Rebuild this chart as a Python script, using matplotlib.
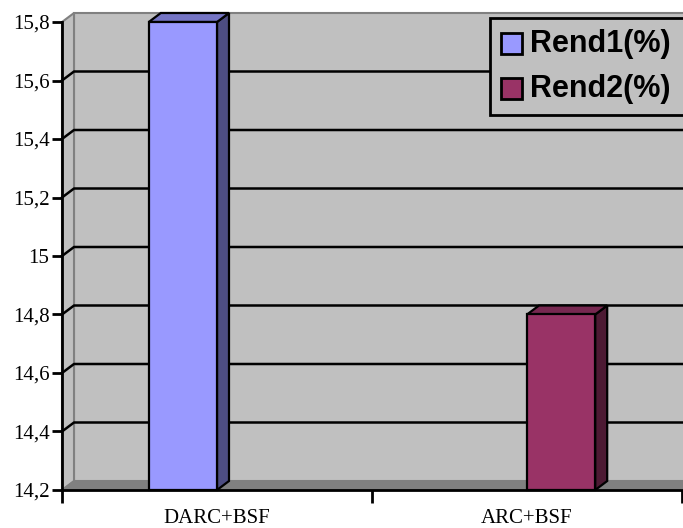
import numpy as np
import matplotlib
matplotlib.use('Agg')
from matplotlib import pyplot as plt
from matplotlib.patches import Rectangle, Polygon
from matplotlib.transforms import Affine2D

# Data
categories = ['DARC+BSF', 'ARC+BSF']
series_names = ['Rend1(%)', 'Rend2(%)']
rend1 = [15.8, np.nan]
rend2 = [np.nan, 14.8]
yticks = [14.2, 14.4, 14.6, 14.8, 15.0, 15.2, 15.4, 15.6, 15.8]

front_cols = ['#9999FF', '#993366']
side_cols = ['#4D4D82', '#4D1A33']
top_cols = ['#7474C4', '#772850']

W, H = 683, 528
fig = plt.figure(figsize=(W / 100, H / 100), dpi=100)
ax_l, ax_r, ax_b, ax_t = 62, 682, 490, 22
ax = fig.add_axes([ax_l / W, 1 - ax_b / H, (ax_r - ax_l) / W, (ax_b - ax_t) / H])
ax.patch.set_visible(False)

x0, x1 = -0.5, 1.5
y0, y1 = 14.2, 15.8
ax.set_xlim(x0, x1)
ax.set_ylim(y0, y1)

# depth offset of the 3D box, 12 px right / 9 px up
dx = 12 / (ax_r - ax_l) * (x1 - x0)
dy = 9 / (ax_b - ax_t) * (y1 - y0)

# back wall, side wall and floor
ax.add_patch(Rectangle((x0 + dx, y0 + dy), (x1 - x0) + dx, (y1 - y0),
                       facecolor='#C0C0C0', edgecolor='#808080', lw=1.5,
                       clip_on=False, zorder=0))
ax.add_patch(Polygon([(x0, y0), (x0, y1), (x0 + dx, y1 + dy), (x0 + dx, y0 + dy)],
                     facecolor='#C0C0C0', edgecolor='#808080', lw=1.5,
                     clip_on=False, zorder=0))
ax.add_patch(Polygon([(x0, y0), (x1 + dx, y0), (x1 + 2 * dx, y0 + dy), (x0 + dx, y0 + dy)],
                     facecolor='#808080', edgecolor='#808080', lw=1,
                     clip_on=False, zorder=0.5))

# gridlines on the side and back walls
for yt in yticks[1:-1]:
    ax.plot([x0, x0 + dx, x1 + 2 * dx], [yt, yt + dy, yt + dy],
            color='black', lw=1.8, clip_on=False, zorder=1)

# bars as boxes
bw = 0.22
for s, vals in enumerate([rend1, rend2]):
    for i, v in enumerate(vals):
        if np.isnan(v):
            continue
        xa = i - bw + s * bw
        xb = xa + bw
        ax.add_patch(Polygon([(xb, y0), (xb, v), (xb + dx, v + dy), (xb + dx, y0 + dy)],
                             facecolor=side_cols[s], edgecolor='black', lw=1.6,
                             clip_on=False, zorder=2))
        ax.add_patch(Polygon([(xa, v), (xb, v), (xb + dx, v + dy), (xa + dx, v + dy)],
                             facecolor=top_cols[s], edgecolor='black', lw=1.6,
                             clip_on=False, zorder=2))
        ax.add_patch(Rectangle((xa, y0), bw, v - y0,
                               facecolor=front_cols[s], edgecolor='black', lw=1.6,
                               clip_on=False, zorder=3))

# axes
for side in ['top', 'right']:
    ax.spines[side].set_visible(False)
for side in ['left', 'bottom']:
    ax.spines[side].set_linewidth(2)
    ax.spines[side].set_zorder(4)

ax.set_yticks(yticks)
ax.set_yticklabels([('%g' % t).replace('.', ',') for t in yticks],
                   family='Liberation Serif', fontsize=15)
ax.tick_params(axis='y', direction='out', length=7, width=2, pad=2)

ax.set_xticks([0, 1])
ax.set_xticklabels(categories, family='Liberation Serif', fontsize=15)
ax.set_xticks([x0, 0.5, x1], minor=True)
ax.tick_params(axis='x', which='major', length=0, pad=14)
ax.tick_params(axis='x', which='minor', direction='out', length=9, width=2)

# legend box, placed in pixel coordinates from the top-left corner
pix = Affine2D().scale(1 / W, -1 / H).translate(0, 1) + fig.transFigure
fig.add_artist(Rectangle((490, 18), 210, 97, transform=pix, facecolor='#C0C0C0',
                         edgecolor='black', lw=2, zorder=5))
for k, name in enumerate(series_names):
    yc = 44 + k * 45
    fig.add_artist(Rectangle((501, yc - 11), 21, 21, transform=pix,
                             facecolor=front_cols[k], edgecolor='black', lw=2, zorder=6))
    fig.text(530, yc, name, transform=pix, ha='left', va='center',
             family='Liberation Sans', fontweight='bold', fontsize=22, zorder=6)

fig.savefig('out.png', dpi=100)
